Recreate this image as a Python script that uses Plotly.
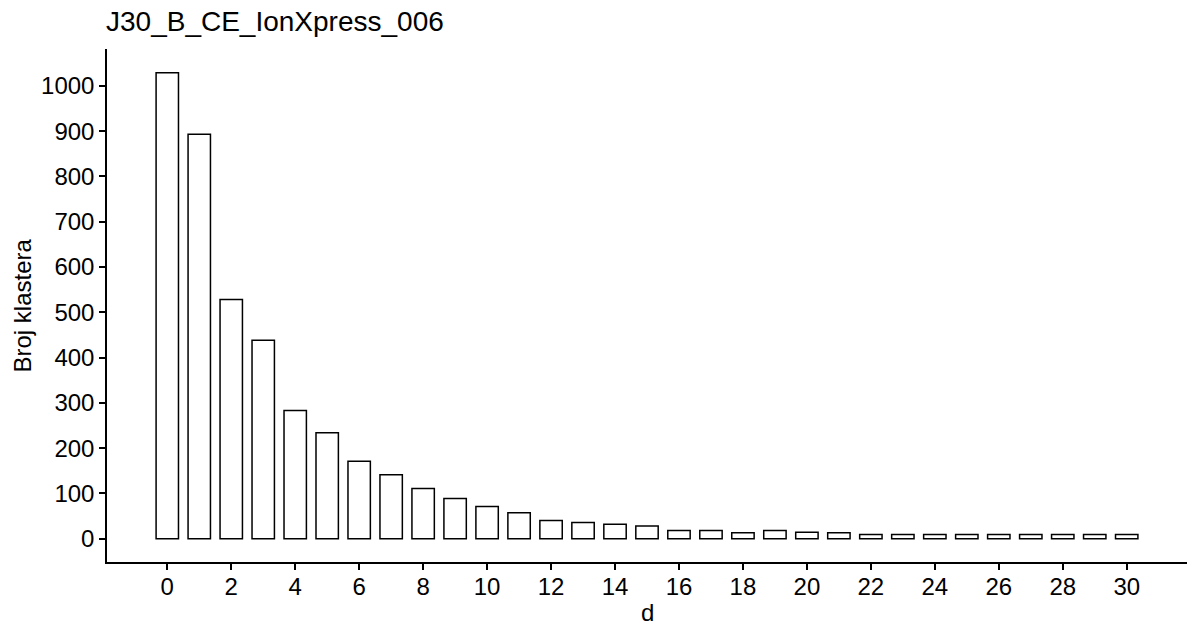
import plotly.graph_objects as go

d_values = list(range(0, 31))
cluster_counts = [1029, 893, 528, 438, 283, 234, 171, 141, 111, 89, 71, 57, 40, 36, 32, 28,
                  18, 18, 13, 18, 14, 13, 9, 9, 9, 9, 9, 9, 9, 9, 9]
x_ticks = list(range(0, 31, 2))
y_ticks = list(range(0, 1001, 100))

fig = go.Figure()
fig.add_trace(go.Bar(
    x=d_values, y=cluster_counts, width=0.7,
    marker=dict(color="white", line=dict(color="black", width=1.5)),
))

font = "Liberation Sans, Arial, sans-serif"
W, H = 1192, 626
fig.update_layout(
    width=W, height=H,
    margin=dict(l=107, r=5, t=49, b=64, autoexpand=False),
    plot_bgcolor="white", paper_bgcolor="white",
    showlegend=False,
    title=dict(text="J30_B_CE_IonXpress_006", x=106 / W, xanchor="left", xref="container",
               y=1 - 21 / H, yanchor="middle", yref="container",
               font=dict(family=font, size=28, color="black")),
    font=dict(family=font, color="black"),
    annotations=[
        dict(text="d", xref="paper", yref="paper", x=(647 - 107) / (1187 - 107),
             y=-(612 - 562) / (562 - 49), xanchor="center", yanchor="middle",
             showarrow=False, font=dict(family=font, size=24, color="black")),
        dict(text="Broj klastera", xref="paper", yref="paper", x=-(107 - 22) / (1187 - 107),
             y=0.5, xanchor="center", yanchor="middle", textangle=-90,
             showarrow=False, font=dict(family=font, size=24, color="black")),
    ],
)
fig.update_xaxes(
    range=[-1.885, 31.885], tickmode="array", tickvals=x_ticks,
    ticktext=[str(v) for v in x_ticks], automargin=False,
    showline=True, linecolor="black", linewidth=1.5, showgrid=False, zeroline=False,
    ticks="outside", ticklen=6, tickwidth=1.5, tickcolor="black",
    tickfont=dict(family=font, size=24, color="black"), ticklabelstandoff=-4,
)
fig.update_yaxes(
    range=[-51.5, 1081.5], tickmode="array", tickvals=y_ticks,
    ticktext=[str(v) for v in y_ticks], automargin=False,
    showline=True, linecolor="black", linewidth=1.5, showgrid=False, zeroline=False,
    ticks="outside", ticklen=6, tickwidth=1.5, tickcolor="black",
    tickfont=dict(family=font, size=24, color="black"),
)

fig.write_html("out.html", config={"displayModeBar": False},
               post_script="document.body.style.margin='0';")
